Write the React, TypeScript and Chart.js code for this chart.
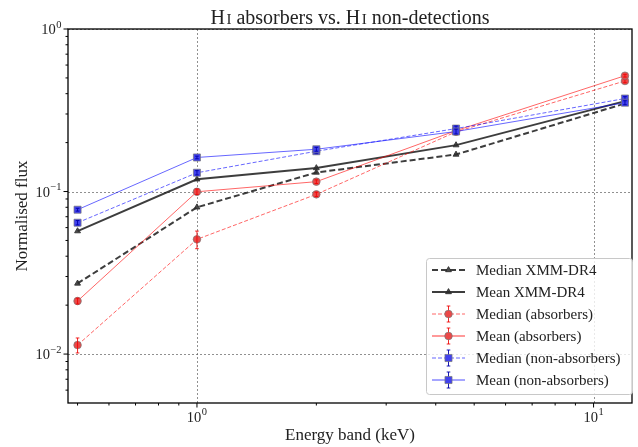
import { useEffect, useRef } from 'react';
import { Chart, registerables } from 'chart.js';

Chart.register(...registerables);

// Energy bands (keV) and normalised flux per sample
const energyBands = [0.5, 1, 2, 4.5, 12];

const medianXmm = [0.0272, 0.08, 0.131, 0.169, 0.348];
const meanXmm = [0.0571, 0.119, 0.1395, 0.193, 0.36];

const medianAbs = [0.01136, 0.0508, 0.0961, 0.233, 0.479];
const medianAbsErr = [0.0012, 0.0063, 0.003, 0.006, 0.012];
const meanAbs = [0.0212, 0.0997, 0.115, 0.237, 0.516];
const meanAbsErr = [0.0009, 0.004, 0.003, 0.005, 0.01];

const medianNon = [0.0643, 0.1305, 0.177, 0.244, 0.3735];
const medianNonErr = [0.002, 0.004, 0.006, 0.009, 0.01];
const meanNon = [0.0773, 0.162, 0.182, 0.234, 0.352];
const meanNonErr = [0.0015, 0.003, 0.005, 0.008, 0.01];

// Axis tick positions
const xMajorTicks = [1, 10];
const xMajorExp = ['0', '1'];
const xMinorTicks = [0.5, 0.6, 0.7, 0.8, 0.9, 2, 3, 4, 5, 6, 7, 8, 9];
const yMajorTicks = [0.01, 0.1, 1];
const yMajorExp = ['\u22122', '\u22121', '0'];
const yMinorTicks = [
  0.006, 0.007, 0.008, 0.009,
  0.02, 0.03, 0.04, 0.05, 0.06, 0.07, 0.08, 0.09,
  0.2, 0.3, 0.4, 0.5, 0.6, 0.7, 0.8, 0.9,
];

const W = 638;
const H = 447;
const FONT = '"Liberation Serif", "DejaVu Serif", serif';

type Series = {
  label: string;
  data: number[];
  err: number[] | null;
  line: string;
  legendLine: string;
  width: number;
  legendWidth: number;
  dash: number[];
  point: 'triangle' | 'circle' | 'rect';
  radius: number;
  fill: string;
  edge: string;
  errColor: string;
};

const GREY_EDGE = 'rgba(120,120,120,0.7)';

const series: Series[] = [
  {
    label: 'Median XMM-DR4', data: medianXmm, err: null,
    line: 'rgba(0,0,0,0.76)', legendLine: 'rgba(0,0,0,0.76)', width: 2, legendWidth: 2, dash: [6, 3],
    point: 'triangle', radius: 3.4, fill: 'rgba(45,45,45,0.85)', edge: 'rgba(45,45,45,0.85)', errColor: '',
  },
  {
    label: 'Mean XMM-DR4', data: meanXmm, err: null,
    line: 'rgba(0,0,0,0.76)', legendLine: 'rgba(0,0,0,0.76)', width: 2, legendWidth: 2, dash: [],
    point: 'triangle', radius: 3.4, fill: 'rgba(45,45,45,0.85)', edge: 'rgba(45,45,45,0.85)', errColor: '',
  },
  {
    label: 'Median (absorbers)', data: medianAbs, err: medianAbsErr,
    line: 'rgba(255,0,0,0.6)', legendLine: 'rgba(255,0,0,0.6)', width: 1, legendWidth: 1, dash: [4, 2],
    point: 'circle', radius: 3.8, fill: 'rgba(236,72,72,1)', edge: GREY_EDGE, errColor: 'rgba(240,0,0,0.85)',
  },
  {
    label: 'Mean (absorbers)', data: meanAbs, err: meanAbsErr,
    line: 'rgba(255,0,0,0.6)', legendLine: 'rgba(255,0,0,0.4)', width: 1, legendWidth: 2, dash: [],
    point: 'circle', radius: 3.8, fill: 'rgba(236,72,72,1)', edge: GREY_EDGE, errColor: 'rgba(240,0,0,0.85)',
  },
  {
    label: 'Median (non-absorbers)', data: medianNon, err: medianNonErr,
    line: 'rgba(0,0,255,0.6)', legendLine: 'rgba(0,0,255,0.6)', width: 1, legendWidth: 1, dash: [4, 2],
    point: 'rect', radius: 5, fill: 'rgba(66,66,238,1)', edge: GREY_EDGE, errColor: 'rgba(0,0,170,0.9)',
  },
  {
    label: 'Mean (non-absorbers)', data: meanNon, err: meanNonErr,
    line: 'rgba(0,0,255,0.6)', legendLine: 'rgba(0,0,255,0.7)', width: 1, legendWidth: 1, dash: [],
    point: 'rect', radius: 5, fill: 'rgba(66,66,238,1)', edge: GREY_EDGE, errColor: 'rgba(0,0,170,0.9)',
  },
];

function drawPower(
  ctx: CanvasRenderingContext2D, exp: string, x: number, y: number,
  align: 'center' | 'right', size: number,
) {
  const supSize = size * 0.72;
  ctx.font = `${size}px ${FONT}`;
  const wBase = ctx.measureText('10').width;
  ctx.font = `${supSize}px ${FONT}`;
  const wSup = ctx.measureText(exp).width;
  const total = wBase + wSup + 0.5;
  const start = align === 'center' ? x - total / 2 : x - total;
  ctx.textAlign = 'left';
  ctx.textBaseline = 'alphabetic';
  ctx.fillStyle = '#222';
  ctx.font = `${size}px ${FONT}`;
  ctx.fillText('10', start, y);
  ctx.font = `${supSize}px ${FONT}`;
  ctx.fillText(exp, start + wBase + 0.5, y - size * 0.42);
}

function drawMarker(ctx: CanvasRenderingContext2D, s: Series, x: number, y: number) {
  ctx.save();
  ctx.fillStyle = s.fill;
  ctx.strokeStyle = s.edge;
  ctx.lineWidth = 1;
  ctx.setLineDash([]);
  ctx.beginPath();
  if (s.point === 'circle') {
    ctx.arc(x, y, s.radius, 0, Math.PI * 2);
  } else if (s.point === 'rect') {
    const h = s.radius * Math.SQRT1_2;
    ctx.rect(x - h, y - h, 2 * h, 2 * h);
  } else {
    const r = s.radius;
    ctx.moveTo(x, y - r);
    ctx.lineTo(x + r * 0.866, y + r * 0.5);
    ctx.lineTo(x - r * 0.866, y + r * 0.5);
    ctx.closePath();
  }
  ctx.fill();
  ctx.stroke();
  ctx.restore();
}

function drawErrBar(ctx: CanvasRenderingContext2D, color: string, x: number, y1: number, y2: number) {
  ctx.save();
  ctx.strokeStyle = color;
  ctx.lineWidth = 1;
  ctx.setLineDash([]);
  ctx.beginPath();
  ctx.moveTo(x, y1);
  ctx.lineTo(x, y2);
  ctx.moveTo(x - 1.8, y1);
  ctx.lineTo(x + 1.8, y1);
  ctx.moveTo(x - 1.8, y2);
  ctx.lineTo(x + 1.8, y2);
  ctx.stroke();
  ctx.restore();
}

const decorPlugin = {
  id: 'decor',
  beforeDatasetsDraw(chart: any) {
    const ctx: CanvasRenderingContext2D = chart.ctx;
    const { left, right, top, bottom } = chart.chartArea;
    const xs = chart.scales.x;
    const ys = chart.scales.y;
    ctx.save();
    ctx.strokeStyle = 'rgba(90,90,90,0.85)';
    ctx.lineWidth = 0.8;
    ctx.setLineDash([2, 2]);
    for (const v of xMajorTicks) {
      const px = Math.round(xs.getPixelForValue(v)) + 0.5;
      ctx.beginPath();
      ctx.moveTo(px, top);
      ctx.lineTo(px, bottom);
      ctx.stroke();
    }
    for (const v of yMajorTicks) {
      const py = Math.round(ys.getPixelForValue(v)) + 0.5;
      ctx.beginPath();
      ctx.moveTo(left, py);
      ctx.lineTo(right, py);
      ctx.stroke();
    }
    ctx.restore();
  },
  afterDatasetDraw(chart: any, args: any) {
    const s = series[args.index];
    if (!s || !s.err) return;
    const ctx: CanvasRenderingContext2D = chart.ctx;
    const xs = chart.scales.x;
    const ys = chart.scales.y;
    s.data.forEach((v, i) => {
      const e = s.err![i];
      const px = xs.getPixelForValue(energyBands[i]);
      drawErrBar(ctx, s.errColor, px, ys.getPixelForValue(v + e), ys.getPixelForValue(v - e));
    });
  },
  afterDraw(chart: any) {
    const ctx: CanvasRenderingContext2D = chart.ctx;
    const { left, right, top, bottom } = chart.chartArea;
    const xs = chart.scales.x;
    const ys = chart.scales.y;
    ctx.save();

    // frame
    ctx.strokeStyle = '#000';
    ctx.lineWidth = 1.3;
    ctx.setLineDash([]);
    ctx.strokeRect(left, top, right - left, bottom - top);

    // tick marks
    ctx.lineWidth = 1;
    ctx.beginPath();
    for (const v of xMajorTicks) {
      const px = xs.getPixelForValue(v);
      ctx.moveTo(px, bottom);
      ctx.lineTo(px, bottom + 4.5);
    }
    for (const v of xMinorTicks) {
      const px = xs.getPixelForValue(v);
      ctx.moveTo(px, bottom);
      ctx.lineTo(px, bottom + 2.5);
    }
    for (const v of yMajorTicks) {
      const py = ys.getPixelForValue(v);
      ctx.moveTo(left, py);
      ctx.lineTo(left - 4.5, py);
    }
    for (const v of yMinorTicks) {
      const py = ys.getPixelForValue(v);
      ctx.moveTo(left, py);
      ctx.lineTo(left - 2.5, py);
    }
    ctx.stroke();

    // tick labels
    xMajorTicks.forEach((v, i) => {
      drawPower(ctx, xMajorExp[i], xs.getPixelForValue(v), bottom + 18.5, 'center', 14.5);
    });
    yMajorTicks.forEach((v, i) => {
      drawPower(ctx, yMajorExp[i], left - 6.5, ys.getPixelForValue(v) + 5, 'right', 14.5);
    });

    // axis titles
    ctx.fillStyle = '#222';
    ctx.font = `17px ${FONT}`;
    ctx.textAlign = 'center';
    ctx.textBaseline = 'alphabetic';
    ctx.fillText('Energy band (keV)', (left + right) / 2, 440);
    ctx.save();
    ctx.translate(27, (top + bottom) / 2);
    ctx.rotate(-Math.PI / 2);
    ctx.fillText('Normalised flux', 0, 0);
    ctx.restore();

    // title with small-caps ionisation stage
    const parts: [string, number][] = [
      ['H', 20], ['I', 15], [' absorbers vs. H', 20], ['I', 15], [' non-detections', 20],
    ];
    let tw = 0;
    const widths = parts.map(([t, s], i) => {
      ctx.font = `${s}px ${FONT}`;
      const w = ctx.measureText(t).width + (i === 1 || i === 3 ? 1.5 : 0);
      tw += w;
      return w;
    });
    let tx = (left + right) / 2 - tw / 2;
    ctx.textAlign = 'left';
    parts.forEach(([t, s], i) => {
      ctx.font = `${s}px ${FONT}`;
      ctx.fillText(t, tx + (i === 1 || i === 3 ? 1.5 : 0), 24);
      tx += widths[i];
    });

    // legend
    const lx = 426;
    const ly = 258;
    const lw = 206;
    const lh = 136;
    ctx.fillStyle = 'rgba(255,255,255,0.8)';
    ctx.strokeStyle = 'rgba(200,200,200,1)';
    ctx.lineWidth = 1;
    ctx.beginPath();
    ctx.roundRect(lx + 0.5, ly + 0.5, lw, lh, 3);
    ctx.fill();
    ctx.stroke();
    series.forEach((s, i) => {
      const cy = 270 + i * 22;
      ctx.save();
      ctx.strokeStyle = s.legendLine;
      ctx.lineWidth = s.legendWidth;
      ctx.setLineDash(s.dash);
      ctx.beginPath();
      ctx.moveTo(432, cy);
      ctx.lineTo(465, cy);
      ctx.stroke();
      ctx.restore();
      if (s.err) drawErrBar(ctx, s.errColor, 448.5, cy - 8, cy + 8);
      drawMarker(ctx, s, 448.5, cy);
      ctx.fillStyle = '#222';
      ctx.font = `15px ${FONT}`;
      ctx.textAlign = 'left';
      ctx.textBaseline = 'alphabetic';
      ctx.fillText(s.label, 476, cy + 5);
    });

    ctx.restore();
  },
};

export default function App() {
  const ref = useRef<HTMLCanvasElement>(null);

  useEffect(() => {
    document.body.style.margin = '0';
    const canvas = ref.current;
    if (!canvas) return;
    const chart = new Chart(canvas, {
      type: 'line',
      data: {
        labels: energyBands,
        datasets: series.map((s, i) => ({
          label: s.label,
          data: s.data.map((v, j) => ({ x: energyBands[j], y: v })),
          borderColor: s.line,
          borderWidth: s.width,
          borderDash: s.dash,
          pointStyle: s.point,
          pointRadius: s.radius,
          pointBackgroundColor: s.fill,
          pointBorderColor: s.edge,
          pointBorderWidth: 1,
          fill: false,
          tension: 0,
          order: series.length - i,
        })),
      },
      options: {
        animation: false,
        responsive: false,
        devicePixelRatio: 1,
        layout: { padding: { left: 68, top: 29, right: 4, bottom: 44 } },
        plugins: { legend: { display: false }, tooltip: { enabled: false }, title: { display: false } },
        scales: {
          x: { type: 'logarithmic', min: 0.473, max: 12.5, display: false },
          y: { type: 'logarithmic', min: 0.005, max: 1, display: false },
        },
      },
      plugins: [decorPlugin],
    } as any);
    return () => chart.destroy();
  }, []);

  return <canvas ref={ref} width={W} height={H} style={{ display: 'block', width: W, height: H }} />;
}
